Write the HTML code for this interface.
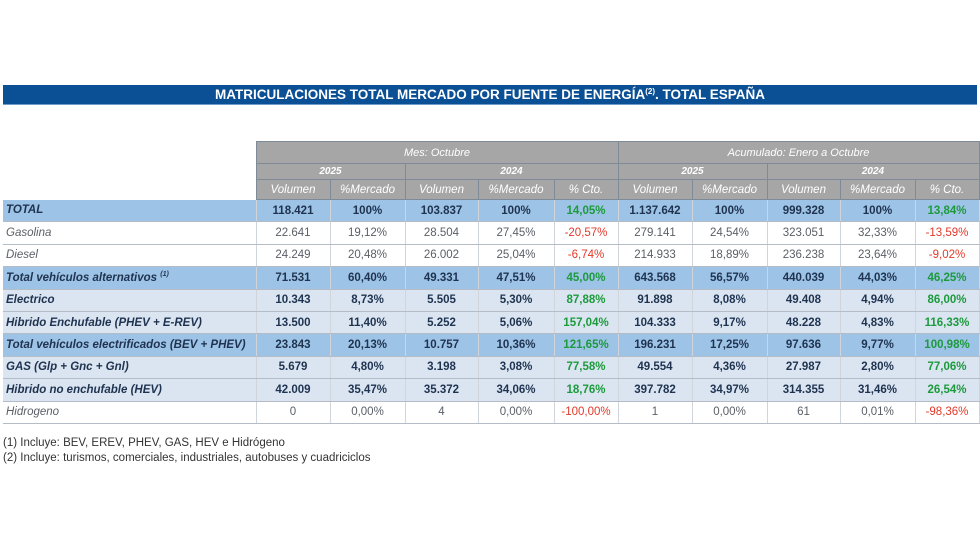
<!DOCTYPE html>
<html><head><meta charset="utf-8">
<style>
html,body{margin:0;padding:0;background:#fff;width:980px;height:560px;overflow:hidden;font-family:"Liberation Sans",sans-serif;}
#title{position:absolute;left:3px;top:85px;width:974px;height:19px;background:#0b4f95;color:#fff;font-weight:bold;font-size:13.5px;line-height:20px;text-align:center;border-bottom:1px solid #6f9bc8;}
#title sup{font-size:8px;line-height:0;vertical-align:5px;}
table{position:absolute;left:3px;top:141px;border-collapse:collapse;table-layout:fixed;font-size:11.5px;}
td{padding:0;overflow:hidden;white-space:nowrap;vertical-align:middle;}
.h td.g{background:#a6a6a6;color:#fff;font-style:italic;text-align:center;border:1px solid #7f8a99;}
.h1 td{height:21px;font-size:11px;}
.h2 td.g{height:15px;font-weight:bold;font-size:10px;}
.h3 td.g{height:19px;font-size:11.5px;}
tr.r td{height:21.4px;text-align:center;border-left:1px solid #d0d5dc;border-right:1px solid #d0d5dc;border-bottom:1px solid #b5bcc6;}
tr.r td.l{text-align:left;padding-left:3px;font-style:italic;border-left:none;}
tr.r td.l sup{line-height:0;vertical-align:5px;}
tr.w td{background:#fff;color:#5a5f66;}
tr.d td{background:#9dc3e6;color:#1f3350;font-weight:bold;}
tr.b td{background:#dae5f1;color:#1f3350;font-weight:bold;}
tr.r td.sep{border-left:1px solid #6a7686;}
td.pos{color:#1c9a3c !important;}
td.neg{color:#e2392a !important;}
.fn{position:absolute;left:3px;font-size:11.5px;color:#333;}
</style></head><body>
<div id="title">MATRICULACIONES TOTAL MERCADO POR FUENTE DE ENERGÍA<sup>(2)</sup>. TOTAL ESPAÑA</div>
<table id="t">
<colgroup><col style="width:253px"><col style="width:74px"><col style="width:75px"><col style="width:73px"><col style="width:76px"><col style="width:64px"><col style="width:74px"><col style="width:75px"><col style="width:73px"><col style="width:75px"><col style="width:64px"></colgroup>
<tr class="h h1"><td></td><td class="g" colspan="5">Mes: Octubre</td><td class="g" colspan="5">Acumulado: Enero a Octubre</td></tr>
<tr class="h h2"><td></td><td class="g" colspan="2">2025</td><td class="g" colspan="3">2024</td><td class="g" colspan="2">2025</td><td class="g" colspan="3">2024</td></tr>
<tr class="h h3"><td></td><td class="g">Volumen</td><td class="g">%Mercado</td><td class="g">Volumen</td><td class="g">%Mercado</td><td class="g">% Cto.</td><td class="g">Volumen</td><td class="g">%Mercado</td><td class="g">Volumen</td><td class="g">%Mercado</td><td class="g">% Cto.</td></tr>
</table>
<div class="fn" style="top:437px">(1) Incluye: BEV, EREV, PHEV, GAS, HEV e Hidrógeno</div>
<div class="fn" style="top:452px">(2) Incluye: turismos, comerciales, industriales, autobuses y cuadriciclos</div>
<script>
const labels=["TOTAL","Gasolina","Diesel","Total vehículos alternativos <sup style='font-size:7px'>(1)</sup>","Electrico","Hibrido Enchufable (PHEV + E-REV)","Total vehículos electrificados (BEV + PHEV)","GAS (Glp + Gnc + Gnl)","Hibrido no enchufable (HEV)","Hidrogeno"];
const styles=["d","w","w","d","b","b","d","b","b","w"];
const month=[["118.421","100%","103.837","100%","14,05%"],["22.641","19,12%","28.504","27,45%","-20,57%"],["24.249","20,48%","26.002","25,04%","-6,74%"],["71.531","60,40%","49.331","47,51%","45,00%"],["10.343","8,73%","5.505","5,30%","87,88%"],["13.500","11,40%","5.252","5,06%","157,04%"],["23.843","20,13%","10.757","10,36%","121,65%"],["5.679","4,80%","3.198","3,08%","77,58%"],["42.009","35,47%","35.372","34,06%","18,76%"],["0","0,00%","4","0,00%","-100,00%"]];
const ytd=[["1.137.642","100%","999.328","100%","13,84%"],["279.141","24,54%","323.051","32,33%","-13,59%"],["214.933","18,89%","236.238","23,64%","-9,02%"],["643.568","56,57%","440.039","44,03%","46,25%"],["91.898","8,08%","49.408","4,94%","86,00%"],["104.333","9,17%","48.228","4,83%","116,33%"],["196.231","17,25%","97.636","9,77%","100,98%"],["49.554","4,36%","27.987","2,80%","77,06%"],["397.782","34,97%","314.355","31,46%","26,54%"],["1","0,00%","61","0,01%","-98,36%"]];
const t=document.getElementById('t');
labels.forEach((lab,i)=>{
  const tr=document.createElement('tr');
  tr.className='r '+styles[i];
  
  
  const l=document.createElement('td');l.className='l';l.innerHTML=lab;
  
  
  tr.appendChild(l);
  month[i].concat(ytd[i]).forEach((v,j)=>{
    const td=document.createElement('td');td.textContent=v;
    if(j===0||j===5||j===2||j===7)td.className='sep';
    if(j===4||j===9)td.className=(v[0]==='-'?'neg':'pos');
    
    
    tr.appendChild(td);
  });
  t.appendChild(tr);
});
</script>
</body></html>
